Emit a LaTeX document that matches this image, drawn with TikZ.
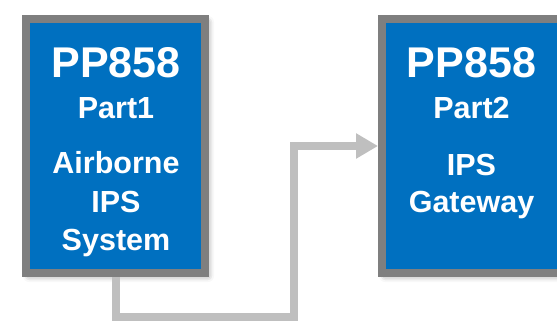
\documentclass[tikz,border=0pt]{standalone}
\usepackage{fontspec}
\setmainfont{Liberation Sans}
\usetikzlibrary{arrows.meta,%
                shadows.blur}
\definecolor{partblue}{HTML}{0070C0}
\definecolor{framegray}{HTML}{7F7F7F}
\definecolor{linkgray}{HTML}{BFBFBF}

\begin{document}
\begin{tikzpicture}[x=1pt,y=-1pt]
  \tikzstyle{PartBox}=[draw=framegray,fill=partblue,line width=8pt,inner sep=0pt,
    minimum width=179pt,minimum height=254pt,
    blur shadow={shadow xshift=3pt,shadow yshift=-3pt,shadow blur radius=6pt,shadow opacity=45}]
  \tikzstyle{BigText}=[anchor=base,text=white,font=\bfseries\fontsize{43}{43}\selectfont,inner sep=0pt]
  \tikzstyle{SmallText}=[anchor=base,text=white,font=\bfseries\fontsize{30.5}{30.5}\selectfont,inner sep=0pt]
  \tikzstyle{Link}=[draw=linkgray,line width=8pt,-{Triangle[length=22pt,width=24pt]}]
  \useasboundingbox (0,0) rectangle (557,322);

  \node[PartBox] (partA) at (115.5,146) {};
  \node[PartBox] (partB) at (471.5,146) {};

  \node[BigText]   (nameA) at (116,77)  {PP858};
  \node[SmallText] (numA)  at (116,118) {Part1};
  \node[SmallText] (descA) at (116,173) {Airborne};
  \node[SmallText] (descB) at (116,212) {IPS};
  \node[SmallText] (descC) at (116,250) {System};

  \node[BigText]   (nameB) at (471.5,77)  {PP858};
  \node[SmallText] (numB)  at (471.5,118) {Part2};
  \node[SmallText] (descD) at (471.5,175) {IPS};
  \node[SmallText] (descE) at (471.5,212) {Gateway};

  \coordinate (bend) at (294,317);
  \draw[Link] (partA.south) |- (bend) |- (partB.west);
\end{tikzpicture}
\end{document}
